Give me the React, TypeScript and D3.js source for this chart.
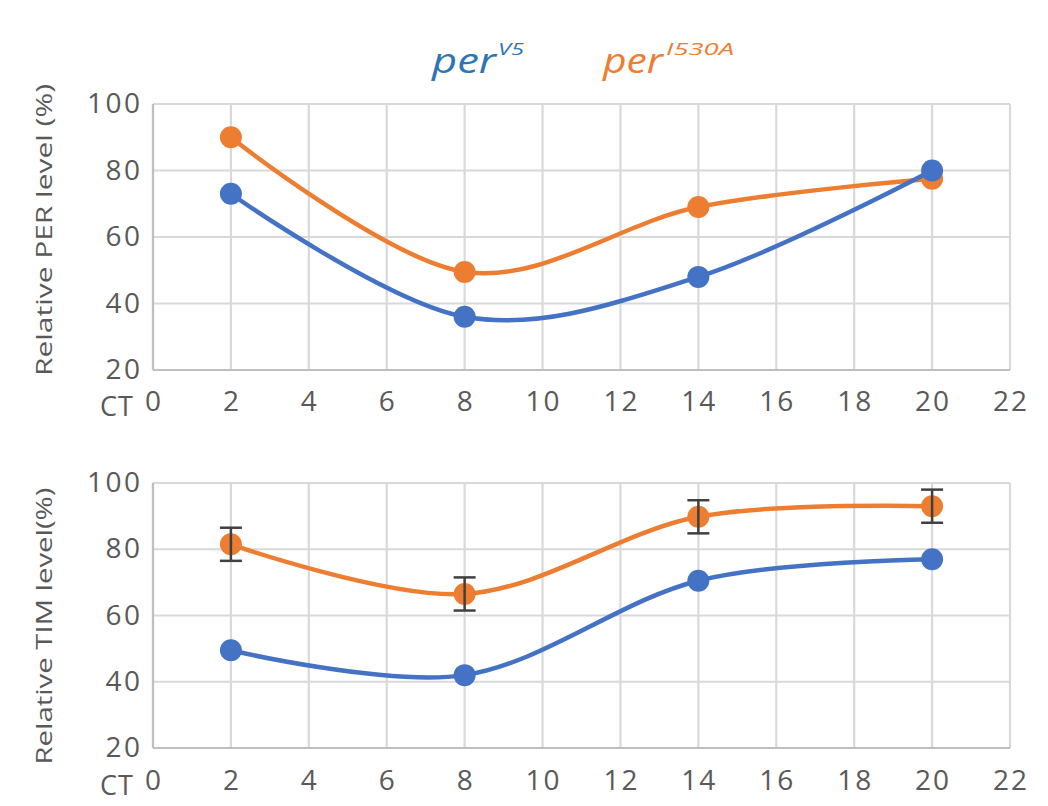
import React from "react";
import * as d3 from "d3";

const ctHours = [2, 8, 14, 20];
const perV5_PER = [73, 36, 48, 80];
const perI530A_PER = [90, 49.5, 69, 77.5];
const perV5_TIM = [49.5, 42, 70.5, 77];
const perI530A_TIM = [81.5, 66.5, 89.8, 93];
const perI530A_TIM_err = [5, 5, 5, 5];
const yTickValues = [20, 40, 60, 80, 100];

const BLUE = "#4472C4";
const ORANGE = "#ED7D31";
const GRID = "#D9D9D9";
const TEXT = "#595959";
const FONT = "'Open Sans', sans-serif";

const W = 1048;
const H = 806;
const LEFT = 153;
const RIGHT = 1010;

type PanelProps = {
  top: number;
  bottom: number;
  title: string;
  titleCenter: number;
  titleLength: number;
  blue: number[];
  orange: number[];
  orangeErr?: number[];
  xLabelY: number;
  ctRight: number;
};

function Panel({ top, bottom, title, titleCenter, titleLength, blue, orange, orangeErr, xLabelY, ctRight }: PanelProps) {
  const x = d3.scaleLinear().domain([0, 22]).range([LEFT, RIGHT]);
  const y = d3.scaleLinear().domain([20, 100]).range([bottom, top]);
  const xTicks = x.ticks(11);
  const line = d3
    .line<number>()
    .x((_, i) => x(ctHours[i]))
    .y((d) => y(d))
    .curve(d3.curveCatmullRom.alpha(0));

  return (
    <g>
      {xTicks.map((t) => (
        <line key={"vx" + t} x1={x(t)} x2={x(t)} y1={top} y2={bottom} stroke={GRID} strokeWidth={2.2} />
      ))}
      {yTickValues.map((t) => (
        <line key={"hy" + t} x1={LEFT} x2={RIGHT} y1={y(t)} y2={y(t)} stroke={GRID} strokeWidth={2.2} />
      ))}
      <line x1={LEFT} x2={LEFT} y1={top} y2={bottom} stroke="#BFBFBF" strokeWidth={2.2} />
      <line x1={LEFT} x2={RIGHT} y1={bottom} y2={bottom} stroke="#BFBFBF" strokeWidth={2.2} />

      {yTickValues.map((t) => (
        <text
          key={"yl" + t}
          x={142.5}
          y={y(t)}
          dy="0.33em"
          textAnchor="end"
          fontSize={28}
          letterSpacing={2.5}
          fill={TEXT}
          fontFamily={FONT}
        >
          {t}
        </text>
      ))}
      {xTicks.map((t) => (
        <text
          key={"xl" + t}
          x={x(t) + 1}
          y={xLabelY}
          textAnchor="middle"
          fontSize={28}
          letterSpacing={2}
          fill={TEXT}
          fontFamily={FONT}
        >
          {t}
        </text>
      ))}
      <text x={ctRight} y={xLabelY + 5} textAnchor="end" fontSize={27} letterSpacing={1} fill={TEXT} fontFamily={FONT}>
        CT
      </text>
      <text
        transform={`translate(52,${titleCenter}) rotate(-90)`}
        textAnchor="middle"
        fontSize={22}
        textLength={titleLength}
        lengthAdjust="spacingAndGlyphs"
        fill={TEXT}
        fontFamily={FONT}
      >
        {title}
      </text>

      <path d={line(orange) || ""} fill="none" stroke={ORANGE} strokeWidth={4.5} />
      {orange.map((v, i) => (
        <circle key={"oc" + i} cx={x(ctHours[i])} cy={y(v)} r={11} fill={ORANGE} />
      ))}
      {orangeErr &&
        orange.map((v, i) => {
          const cx = x(ctHours[i]);
          const y1 = y(v + orangeErr[i]);
          const y2 = y(v - orangeErr[i]);
          return (
            <g key={"err" + i} stroke="#404040" strokeWidth={2.5}>
              <line x1={cx} x2={cx} y1={y1} y2={y2} />
              <line x1={cx - 11} x2={cx + 11} y1={y1} y2={y1} />
              <line x1={cx - 11} x2={cx + 11} y1={y2} y2={y2} />
            </g>
          );
        })}
      <path d={line(blue) || ""} fill="none" stroke={BLUE} strokeWidth={4.5} />
      {blue.map((v, i) => (
        <circle key={"bc" + i} cx={x(ctHours[i])} cy={y(v)} r={11} fill={BLUE} />
      ))}
    </g>
  );
}

export default function App() {
  return (
    <svg width={W} height={H} style={{ position: "absolute", left: 0, top: 0, background: "#fff" }}>
      <rect x={0} y={0} width={W} height={H} fill="#fff" />
      <g fontFamily={FONT} fontStyle="italic">
        <text x={432} y={73} fontSize={34} textLength={64} lengthAdjust="spacingAndGlyphs" fill="#2E75B6">
          per
        </text>
        <text x={498} y={55} fontSize={17} textLength={26} lengthAdjust="spacingAndGlyphs" fill="#2E75B6">
          V5
        </text>
        <text x={603} y={73} fontSize={34} textLength={60} lengthAdjust="spacingAndGlyphs" fill={ORANGE}>
          per
        </text>
        <text x={666} y={55} fontSize={17} textLength={68} lengthAdjust="spacingAndGlyphs" fill={ORANGE}>
          I530A
        </text>
      </g>
      <Panel
        top={104}
        bottom={370}
        title="Relative PER level (%)"
        titleCenter={230}
        titleLength={292}
        blue={perV5_PER}
        orange={perI530A_PER}
        xLabelY={411}
        ctRight={134}
      />
      <Panel
        top={483}
        bottom={748}
        title="Relative TIM level(%)"
        titleCenter={626}
        titleLength={277}
        blue={perV5_TIM}
        orange={perI530A_TIM}
        orangeErr={perI530A_TIM_err}
        xLabelY={790}
        ctRight={134}
      />
    </svg>
  );
}
